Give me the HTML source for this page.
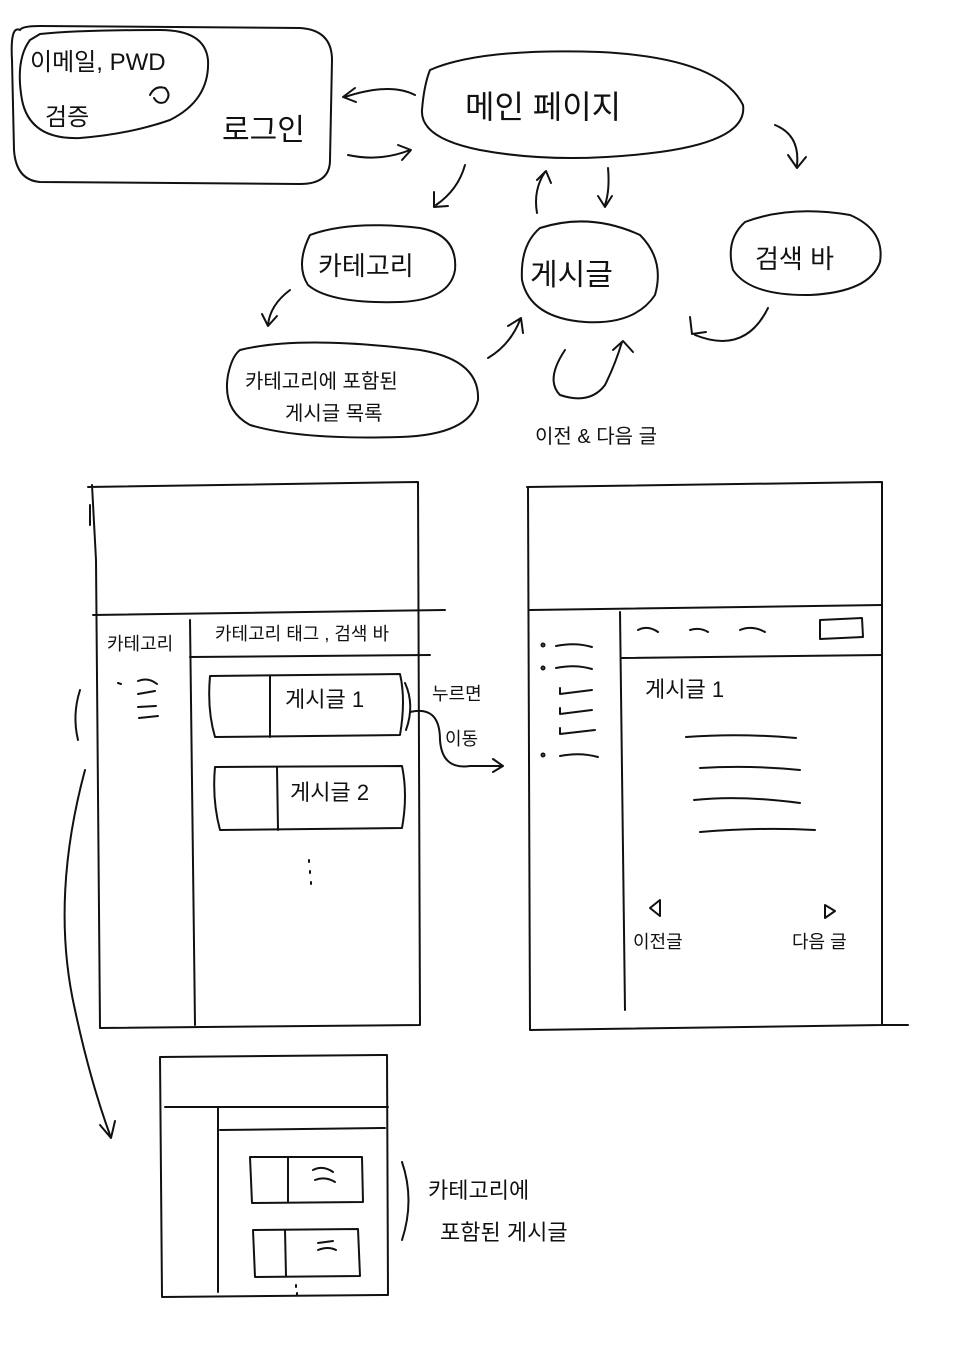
<!DOCTYPE html>
<html><head><meta charset="utf-8">
<style>
html,body{margin:0;padding:0;background:#fff;}
svg{display:block;}
text{font-family:"Liberation Sans","Noto Sans CJK KR","NanumGothic",sans-serif;fill:#111;}
</style></head>
<body>
<svg width="960" height="1357" viewBox="0 0 960 1357" xmlns="http://www.w3.org/2000/svg">
<g fill="none" stroke="#111" stroke-width="2" stroke-linecap="round" stroke-linejoin="round">
<!-- login box -->
<path d="M20 30 Q10 25 12 60 L14 150 Q16 180 40 182 L300 184 Q330 184 330 160 L332 60 Q332 30 300 28 L40 26 Q22 26 20 30Z"/>
<path d="M30 40 Q15 60 22 100 Q30 140 80 138 Q130 134 170 120 Q210 100 208 60 Q205 30 160 30 Q80 30 40 34 Z"/>
<path d="M150 95 Q155 85 165 88 Q172 95 165 102 Q158 105 154 98"/>
<!-- arrows between login/main -->
<path d="M415 95 Q390 82 345 97"/><path d="M355 88 L343 97 L356 102"/>
<path d="M348 155 Q380 162 410 150"/><path d="M398 145 L411 150 L402 160"/>
<!-- main page ellipse -->
<path d="M430 70 Q480 48 600 52 Q720 58 743 105 Q748 140 660 152 Q560 165 480 150 Q420 138 422 110 Q424 85 430 70Z"/>
<!-- arrows from main -->
<path d="M465 165 Q458 190 436 205"/><path d="M434 192 L434 207 L448 206"/>
<path d="M537 213 Q533 190 545 172"/><path d="M537 180 L546 171 L551 183"/>
<path d="M608 168 Q610 190 605 205"/><path d="M598 196 L605 207 L612 196"/>
<path d="M775 125 Q800 135 797 165"/><path d="M788 155 L797 168 L806 157"/>
<!-- category ellipse -->
<path d="M310 235 Q350 220 420 228 Q458 235 455 270 Q450 300 400 302 Q330 304 308 285 Q295 265 310 235Z"/>
<!-- post ellipse -->
<path d="M540 228 Q590 212 640 235 Q665 260 655 295 Q635 325 585 322 Q530 318 522 280 Q520 245 540 228Z"/>
<!-- search ellipse -->
<path d="M745 222 Q790 205 850 215 Q885 230 880 262 Q870 292 810 295 Q750 296 733 270 Q725 240 745 222Z"/>
<path d="M290 290 Q270 305 268 325"/><path d="M262 314 L268 326 L277 316"/>
<!-- category post list ellipse -->
<path d="M240 350 Q300 335 420 350 Q480 360 478 400 Q470 435 400 437 Q300 440 250 425 Q222 410 228 375 Q232 356 240 350Z"/>
<path d="M488 358 Q510 345 520 320"/><path d="M508 326 L521 318 L523 333"/>
<path d="M768 308 Q745 355 695 335"/><path d="M690 317 L692 334 L706 332"/>
<path d="M565 350 Q545 380 560 395 Q590 405 605 385 Q615 365 622 342"/><path d="M613 350 L623 341 L633 352"/>
<!-- left wireframe -->
<path d="M88 487 L418 482 L420 1025 L100 1028 L96 560 L92 485"/>
<path d="M90 505 L90 525"/>
<path d="M93 615 L445 610"/>
<path d="M190 620 L195 1025"/>
<path d="M190 657 L430 655"/>
<path d="M210 676 L400 674 Q406 700 400 735 L215 737 Q207 710 210 676Z"/>
<path d="M270 676 L270 737"/>
<path d="M215 767 L402 766 Q408 795 402 828 L220 830 Q212 800 215 767Z"/>
<path d="M277 767 L278 830"/>
<path d="M309 860 L309 862 M310 871 L310 873 M311 882 L311 884"/>
<path d="M118 683 L121 684 M138 681 Q148 677 157 684 M138 694 L155 691 M138 707 L156 706 M139 718 L158 716"/>
<path d="M80 690 Q72 715 78 740"/>
<path d="M405 683 Q415 705 406 730"/>
<path d="M410 712 Q440 705 440 740 Q442 770 470 766 L502 766"/><path d="M493 759 L503 766 L493 772"/>
<path d="M85 770 Q50 900 75 1010 Q90 1080 110 1135"/><path d="M100 1125 L111 1138 L115 1121"/>
<!-- right wireframe -->
<path d="M527 487 L882 482 L882 1025 L908 1025 M882 1025 L530 1030 L528 487"/>
<path d="M530 610 L882 605"/>
<path d="M620 612 L625 1010"/>
<path d="M622 658 L882 655"/>
<path d="M820 620 L862 618 L863 637 L820 639 Z"/>
<path d="M638 630 Q648 625 658 632 M690 630 Q700 627 708 632 M740 630 Q752 625 765 632"/>
<circle cx="543" cy="645" r="1.5"/><circle cx="543" cy="668" r="1.5"/><circle cx="543" cy="755" r="1.5"/>
<path d="M556 646 Q575 642 592 647 M556 668 Q575 664 592 669 M560 688 L560 694 L592 690 M560 708 L560 714 L592 710 M560 728 L560 734 L595 730 M560 756 Q580 752 598 757"/>
<path d="M686 737 Q740 733 796 738 M700 768 Q750 765 800 770 M694 800 Q740 795 800 803 M700 832 Q760 827 815 830"/>
<path d="M660 900 L650 908 L660 916 Z"/>
<path d="M825 905 L835 911 L825 918 Z"/>
<!-- bottom wireframe -->
<path d="M160 1057 L387 1055 L388 1295 L162 1297 Z"/>
<path d="M165 1107 L388 1107"/>
<path d="M218 1108 L218 1292"/>
<path d="M220 1130 L385 1128"/>
<path d="M250 1157 L362 1157 L363 1202 L252 1203 Z"/>
<path d="M288 1157 L288 1202"/>
<path d="M253 1230 L358 1229 L360 1276 L255 1277 Z"/>
<path d="M285 1230 L286 1276"/>
<path d="M313 1170 Q323 1165 333 1172 M315 1180 Q325 1176 335 1182 M318 1243 L333 1241 M318 1250 Q328 1246 336 1250"/>
<path d="M296 1285 L296 1287 M297 1293 L297 1295"/>
<path d="M402 1162 Q415 1200 402 1240"/>
</g>
<g font-size="26">
<text x="30" y="70" font-size="24">이메일, PWD</text>
<text x="45" y="125" font-size="24">검증</text>
<text x="222" y="140" font-size="30">로그인</text>
<text x="465" y="118" font-size="32">메인  페이지</text>
<text x="318" y="275">카테고리</text>
<text x="530" y="285" font-size="30">게시글</text>
<text x="755" y="268">검색 바</text>
<text x="245" y="388" font-size="20">카테고리에 포함된</text>
<text x="285" y="420" font-size="20">게시글 목록</text>
<text x="535" y="443" font-size="20">이전 &amp; 다음 글</text>
<text x="107" y="650" font-size="18">카테고리</text>
<text x="215" y="640" font-size="18">카테고리 태그 , 검색 바</text>
<text x="285" y="707" font-size="22">게시글 1</text>
<text x="290" y="800" font-size="22">게시글 2</text>
<text x="432" y="700" font-size="18">누르면</text>
<text x="445" y="745" font-size="18">이동</text>
<text x="645" y="697" font-size="22">게시글 1</text>
<text x="633" y="948" font-size="18">이전글</text>
<text x="792" y="948" font-size="18">다음 글</text>
<text x="428" y="1198" font-size="22">카테고리에</text>
<text x="440" y="1240" font-size="22">포함된 게시글</text>
</g>
</svg>
</body></html>
